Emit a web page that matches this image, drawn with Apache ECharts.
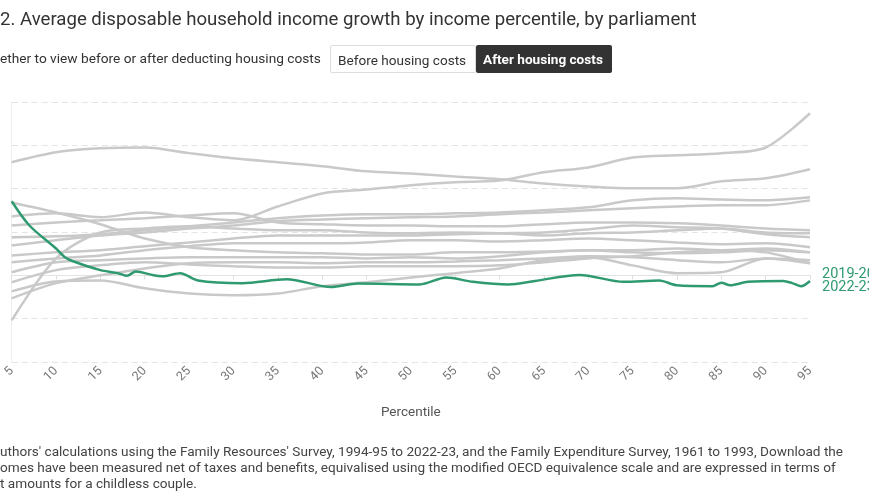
<!DOCTYPE html>
<html>
<head>
<meta charset="utf-8">
<script src="https://cdn.jsdelivr.net/npm/echarts@6/dist/echarts.min.js"></script>
<style>
  html, body { margin: 0; padding: 0; background: #fff; }
  body { width: 869px; height: 504px; position: relative; overflow: hidden; font-family: Roboto, "Noto Sans", sans-serif; }
  #chart { position: absolute; left: 0; top: 0; width: 869px; height: 504px; }
  .title { position: absolute; left: 0; top: 8px; font-size: 18.6px; color: #333; white-space: nowrap; }
  .pick { position: absolute; left: 0; top: 50px; font-size: 13.7px; color: #333; white-space: nowrap; }
  .btn { position: absolute; top: 45px; height: 28px; line-height: 28px; font-size: 13.6px; padding: 0 7px; box-sizing: border-box; border-radius: 2px; white-space: nowrap; }
  .off { left: 330px; width: 146px; border: 1px solid #ddd; color: #333; background: #fff; }
  .on { left: 476px; width: 136px; background: #333; color: #fff; font-weight: bold; }
  .notes { position: absolute; left: 0; top: 443px; font-size: 13.6px; line-height: 16px; color: #444; white-space: nowrap; }
</style>
</head>
<body>
<div id="chart"></div>
<div class="title">2. Average disposable household income growth by income percentile, by parliament</div>
<div class="pick">ether to view before or after deducting housing costs</div>
<div class="btn off">Before housing costs</div>
<div class="btn on">After housing costs</div>
<div class="notes">uthors' calculations using the Family Resources' Survey, 1994-95 to 2022-23, and the Family Expenditure Survey, 1961 to 1993, Download the<br>omes have been measured net of taxes and benefits, equivalised using the modified OECD equivalence scale and are expressed in terms of<br>t amounts for a childless couple.</div>
<script>
// percentiles shared by the grey lines
const pctl = [5, 10, 15, 20, 25, 30, 35, 40, 45, 50, 55, 60, 65, 70, 75, 80, 85, 90, 95];

// annual growth (%), one array per earlier parliament
const line1 = [1.36, 1.43, 1.34, 1.45, 1.34, 1.27, 1.59, 1.89, 1.98, 2.08, 2.15, 2.19, 2.38, 2.49, 2.72, 2.77, 2.82, 2.95, 3.74];
const line2 = [2.61, 2.84, 2.93, 2.95, 2.82, 2.70, 2.61, 2.52, 2.40, 2.35, 2.28, 2.22, 2.12, 2.05, 2.01, 2.01, 2.17, 2.24, 2.45];
const line3 = [0.88, 0.90, 0.95, 1.04, 1.13, 1.22, 1.32, 1.38, 1.41, 1.41, 1.43, 1.45, 1.50, 1.57, 1.73, 1.78, 1.75, 1.73, 1.80];
const line4 = [0.69, 0.81, 0.92, 0.99, 1.08, 1.15, 1.25, 1.29, 1.32, 1.34, 1.36, 1.41, 1.45, 1.50, 1.55, 1.59, 1.62, 1.62, 1.73];
const line5 = [1.68, 1.45, 1.18, 0.85, 0.65, 0.58, 0.53, 0.51, 0.48, 0.48, 0.53, 0.53, 0.55, 0.58, 0.53, 0.51, 0.53, 0.58, 0.53];
const line6 = [-0.37, -0.14, -0.12, -0.30, -0.42, -0.46, -0.42, -0.25, -0.16, -0.05, 0.05, 0.16, 0.35, 0.42, 0.23, 0.05, 0.07, 0.39, 0.28];
const line7 = [-1.04, 0.39, 0.99, 1.08, 1.13, 1.08, 1.04, 1.04, 0.99, 0.97, 0.99, 0.97, 0.92, 0.97, 0.99, 1.04, 1.08, 0.99, 0.97];
const line8 = [0.46, 0.53, 0.58, 0.67, 0.76, 0.85, 0.92, 0.92, 0.92, 0.92, 0.95, 0.97, 0.99, 1.06, 1.15, 1.11, 1.08, 0.95, 0.88];
const line9 = [0.30, 0.39, 0.46, 0.58, 0.67, 0.74, 0.74, 0.74, 0.76, 0.81, 0.81, 0.78, 0.81, 0.85, 0.81, 0.76, 0.72, 0.74, 0.65];
const line10 = [0.07, 0.30, 0.35, 0.39, 0.42, 0.42, 0.42, 0.42, 0.39, 0.42, 0.39, 0.44, 0.53, 0.58, 0.58, 0.62, 0.58, 0.62, 0.53];
const line11 = [-0.16, 0.12, 0.23, 0.30, 0.25, 0.21, 0.18, 0.18, 0.21, 0.21, 0.21, 0.23, 0.30, 0.39, 0.44, 0.53, 0.58, 0.53, 0.28];
const line12 = [-0.53, -0.18, 0.00, 0.16, 0.28, 0.30, 0.30, 0.28, 0.30, 0.30, 0.32, 0.35, 0.39, 0.44, 0.42, 0.35, 0.30, 0.39, 0.35];
const line13 = [1.15, 1.22, 1.27, 1.32, 1.38, 1.43, 1.22, 1.18, 1.15, 1.15, 1.13, 1.13, 1.18, 1.22, 1.22, 1.20, 1.15, 1.08, 1.04];
const greyLines = [line1, line2, line3, line4, line5, line6, line7, line8, line9, line10, line11, line12, line13];

// latest parliament, highlighted
const latestName = '2019-20 to\n2022-23';
const latestPctl = [5, 7, 10, 11, 12, 15, 17, 18, 19, 21, 22, 24, 26, 31, 36, 41, 44, 51, 54, 57, 61, 64, 69, 74, 78, 80, 84, 85, 86, 88, 92, 93, 94, 95];
const latest = [1.71, 1.15, 0.62, 0.42, 0.32, 0.12, 0.05, -0.01, 0.09, 0.00, -0.02, 0.05, -0.12, -0.18, -0.09, -0.27, -0.19, -0.21, -0.05, -0.15, -0.21, -0.13, 0.01, -0.15, -0.12, -0.23, -0.25, -0.17, -0.23, -0.15, -0.13, -0.18, -0.25, -0.13];

const xTicks = { min: 5, max: 95, step: 5 };
const yTicks = { min: -2, max: 4, step: 1 };

const GREY = '#c9c9c9';
const GREEN = '#2f9a70';

const chart = echarts.init(document.getElementById('chart'));

const series = greyLines.map((vals, i) => ({
  name: 'earlier ' + (i + 1),
  type: 'line',
  data: vals.map((v, j) => [pctl[j], v]),
  showSymbol: false,
  smooth: 0.3,
  silent: true,
  lineStyle: { color: GREY, width: 2.5 },
  z: 2
}));

series.push({
  name: latestName,
  type: 'line',
  data: latest.map((v, j) => [latestPctl[j], v]),
  showSymbol: false,
  smooth: 0.3,
  lineStyle: { color: GREEN, width: 2.5 },
  endLabel: {
    show: true,
    formatter: latestName,
    color: GREEN,
    fontSize: 14.5,
    lineHeight: 13,
    distance: 12,
    fontFamily: 'Roboto'
  },
  z: 5
});

chart.setOption({
  animation: false,
  textStyle: { fontFamily: 'Roboto' },
  grid: { left: 8, right: 59, top: 102, bottom: 142 },
  xAxis: {
    type: 'value',
    min: xTicks.min,
    max: xTicks.max,
    interval: xTicks.step,
    name: 'Percentile',
    nameLocation: 'middle',
    nameGap: 44,
    nameTextStyle: { color: '#555', fontSize: 13.5 },
    axisLine: { show: true, lineStyle: { color: '#e3e3e3', width: 1 } },
    axisTick: { show: true, length: 4, lineStyle: { color: '#ddd' } },
    axisLabel: { rotate: 45, color: '#777', fontSize: 12.5, margin: 7 },
    splitLine: { show: false }
  },
  yAxis: {
    type: 'value',
    min: yTicks.min,
    max: yTicks.max,
    interval: yTicks.step,
    axisLine: { show: true, lineStyle: { color: '#eee' } },
    axisTick: { show: false },
    axisLabel: { show: false },
    splitLine: { show: true, lineStyle: { color: '#e4e4e4', type: [6, 4], width: 1 } }
  },
  series: series
});
</script>
</body>
</html>
